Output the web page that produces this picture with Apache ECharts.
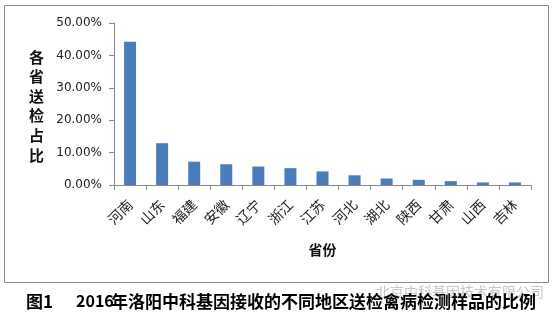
<!DOCTYPE html>
<html>
<head>
<meta charset="utf-8">
<script src="https://cdn.jsdelivr.net/npm/echarts@6/dist/echarts.min.js"></script>
<style>
html,body{margin:0;padding:0;background:#fff;}
#chart{width:559px;height:318px;}
</style>
</head>
<body>
<div id="chart"></div>
<script>
var categories = ['河南','山东','福建','安徽','辽宁','浙江','江苏','河北','湖北','陕西','甘肃','山西','吉林'];
var shares = [0.442, 0.129, 0.072, 0.064, 0.057, 0.052, 0.042, 0.030, 0.020, 0.016, 0.012, 0.008, 0.008];
var yTicks = { min: 0, max: 0.5, interval: 0.1 };
var yName = '各省送检占比';
var xName = '省份';
var captionFig = '图1';
var captionYear = '2016';
var captionRest = '年洛阳中科基因接收的不同地区送检禽病检测样品的比例';
var watermark = '北京中科基因技术有限公司';

var chart = echarts.init(document.getElementById('chart'), null, {renderer: 'canvas'});
var sans = '"DejaVu Sans", Verdana, sans-serif';
var cjk = '"Noto Sans CJK SC", sans-serif';
chart.setOption({
  animation: false,
  backgroundColor: '#fff',
  grid: { left: 114, top: 23, right: 28, bottom: 133 },
  xAxis: {
    type: 'category',
    data: categories,
    axisLine: { show: true, lineStyle: { color: '#888', width: 1 } },
    axisTick: { show: true, interval: 0, length: 5, alignWithLabel: false, lineStyle: { color: '#888' } },
    axisLabel: { interval: 0, rotate: 45, color: '#222', fontSize: 14, fontFamily: cjk, margin: 17 },
    name: xName,
    nameLocation: 'middle',
    nameGap: 58,
    nameTextStyle: { fontSize: 14, fontWeight: 'bold', color: '#111', fontFamily: cjk }
  },
  yAxis: {
    type: 'value',
    min: yTicks.min, max: yTicks.max, interval: yTicks.interval,
    axisLine: { show: true, lineStyle: { color: '#888', width: 1 } },
    axisTick: { show: true, length: 5, lineStyle: { color: '#888' } },
    splitLine: { show: false },
    axisLabel: {
      color: '#222', fontSize: 12, fontFamily: sans, margin: 12,
      formatter: function (v) { return (v * 100).toFixed(2) + '%'; }
    }
  },
  series: [{
    type: 'bar',
    data: shares,
    barWidth: 12,
    itemStyle: { color: '#4A7EBB' }
  }],
  graphic: [
    { type: 'rect', shape: { x: 4.5, y: 5.5, width: 544, height: 277 }, style: { fill: 'none', stroke: '#8a8a8a', lineWidth: 1 }, z: -1 },
    { type: 'text', left: 29, top: 47, style: { text: yName.split('').join('\n'), fontSize: 15, fontWeight: 'bold', lineHeight: 19.6, fill: '#111', fontFamily: cjk } },
    { type: 'text', left: 376, top: 285, style: { text: watermark, fontSize: 14, fill: 'rgba(160,160,160,0.6)', fontFamily: cjk } },
    { type: 'text', left: 26, top: 293, style: { text: captionFig, fontSize: 17, fontWeight: 'bold', fill: '#000', fontFamily: cjk } },
    { type: 'text', left: 76, top: 293, style: { text: captionYear, fontSize: 16, fontWeight: 'bold', fill: '#000', fontFamily: cjk } },
    { type: 'text', left: 111, top: 293, style: { text: captionRest, fontSize: 17, fontWeight: 'bold', fill: '#000', fontFamily: cjk } }
  ]
});
</script>
</body>
</html>
